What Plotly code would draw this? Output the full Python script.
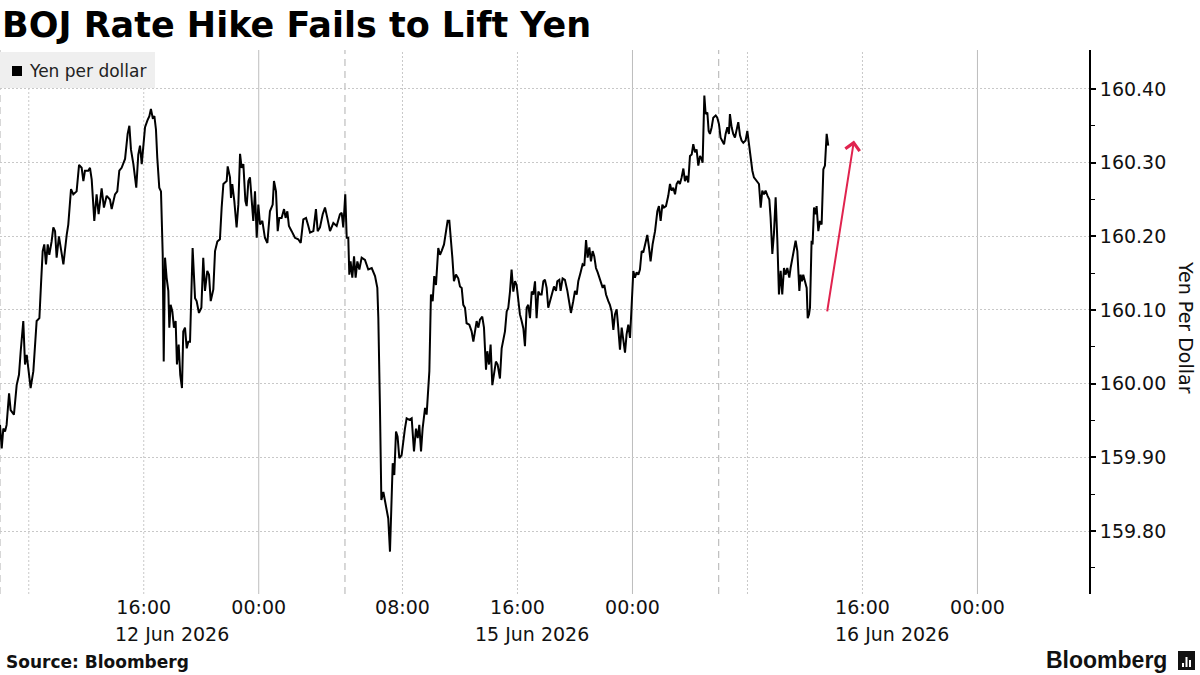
import plotly.graph_objects as go

# ---------------- data ----------------
TITLE = "BOJ Rate Hike Fails to Lift Yen"
SERIES_NAME = "Yen per dollar"
Y_TITLE = "Yen Per Dollar"
SOURCE = "Source: Bloomberg"

# session hours from 06:00 12 Jun 2026 (weekend gap collapsed)
X_HOURS = [
    0.00, 0.12, 0.23, 0.35, 0.46, 0.63, 0.74, 0.97, 1.16, 1.32, 1.44, 1.62, 1.74, 1.86, 2.13, 2.32,
    2.55, 2.74, 2.85, 2.97, 3.08, 3.20, 3.32, 3.43, 3.59, 3.71, 3.83, 3.94, 4.10, 4.24, 4.41, 4.64,
    4.75, 4.94, 5.10, 5.33, 5.50, 5.68, 5.80, 5.91, 6.14, 6.26, 6.38, 6.56, 6.72, 6.86, 7.07, 7.23,
    7.42, 7.65, 7.77, 8.00, 8.16, 8.30, 8.46, 8.70, 8.88, 9.00, 9.11, 9.28, 9.48, 9.62, 9.74, 9.86,
    9.97, 10.09, 10.25, 10.39, 10.50, 10.62, 10.74, 10.85, 10.94, 11.08, 11.20, 11.32, 11.39, 11.48,
    11.59, 11.71, 11.78, 11.87, 11.99, 12.10, 12.22, 12.31, 12.43, 12.54, 12.66, 12.75, 12.87, 12.99,
    13.10, 13.22, 13.40, 13.57, 13.68, 13.84, 14.01, 14.14, 14.26, 14.42, 14.54, 14.66, 14.84, 14.96,
    15.12, 15.30, 15.42, 15.54, 15.77, 15.84, 16.00, 16.07, 16.16, 16.30, 16.46, 16.58, 16.70, 16.81,
    16.93, 17.07, 17.16, 17.28, 17.39, 17.51, 17.62, 17.74, 17.86, 17.97, 18.09, 18.25, 18.43, 18.60,
    18.78, 18.97, 19.06, 19.20, 19.32, 19.43, 19.59, 19.76, 19.87, 19.99, 20.10, 20.29, 20.52, 20.75,
    20.92, 21.10, 21.29, 21.45, 21.57, 21.80, 21.98, 22.10, 22.26, 22.45, 22.61, 22.77, 22.96, 23.19,
    23.42, 23.65, 23.77, 23.88, 24.02, 24.12, 24.23, 24.30, 24.39, 24.51, 24.63, 24.74, 24.86, 25.00,
    25.16, 25.39, 25.62, 25.86, 26.09, 26.25, 26.32, 26.43, 26.53, 26.67, 26.85, 27.01, 27.13, 27.20,
    27.32, 27.43, 27.55, 27.66, 27.78, 27.94, 28.06, 28.17, 28.29, 28.48, 28.64, 28.80, 28.94, 29.06,
    29.17, 29.29, 29.40, 29.57, 29.68, 29.87, 29.98, 30.10, 30.21, 30.33, 30.49, 30.61, 30.72, 30.89,
    31.03, 31.14, 31.26, 31.37, 31.47, 31.58, 31.72, 31.88, 32.00, 32.12, 32.23, 32.35, 32.46, 32.65,
    32.81, 32.93, 33.04, 33.16, 33.28, 33.39, 33.55, 33.67, 33.81, 33.90, 34.02, 34.13, 34.25, 34.37,
    34.50, 34.62, 34.78, 34.90, 35.01, 35.13, 35.25, 35.36, 35.48, 35.59, 35.71, 35.83, 35.94, 36.06,
    36.17, 36.29, 36.41, 36.52, 36.64, 36.75, 36.87, 36.99, 37.10, 37.22, 37.33, 37.45, 37.57, 37.68,
    37.80, 37.91, 38.03, 38.14, 38.26, 38.38, 38.54, 38.68, 38.77, 38.91, 39.00, 39.14, 39.30, 39.47,
    39.61, 39.72, 39.88, 40.00, 40.12, 40.23, 40.39, 40.53, 40.65, 40.77, 40.88, 41.00, 41.11, 41.23,
    41.34, 41.46, 41.58, 41.69, 41.81, 41.93, 42.04, 42.16, 42.32, 42.43, 42.55, 42.67, 42.78, 42.90,
    43.01, 43.13, 43.25, 43.32, 43.41, 43.48, 43.59, 43.71, 43.83, 43.94, 44.06, 44.17, 44.29, 44.41,
    44.52, 44.64, 44.75, 44.94, 45.03, 45.15, 45.26, 45.40, 45.57, 45.73, 45.84, 45.96, 46.08, 46.19,
    46.33, 46.49, 46.61, 46.72, 46.84, 46.96, 47.07, 47.19, 47.30, 47.42, 47.54, 47.65, 47.77, 47.88,
    48.00, 48.12, 48.23, 48.35, 48.46, 48.58, 48.70, 48.81, 48.88, 49.00, 49.09, 49.21, 49.30, 49.39,
    49.51, 49.62, 49.79, 49.90, 50.02, 50.13, 50.25, 50.37, 50.48, 50.60, 50.71, 50.78, 50.90, 51.01,
    51.13, 51.25, 51.36, 51.48, 51.59, 51.71, 51.87, 51.99, 52.10, 52.22, 52.34, 52.45, 52.64, 52.80,
    52.92, 53.03, 53.15, 53.26, 53.40, 53.52, 53.61, 53.73, 53.84, 53.96, 54.08, 54.19, 54.31, 54.42,
    54.54, 54.66, 54.77, 54.91, 55.00, 55.12, 55.23, 55.35, 55.47, 55.54, 55.61, 55.70, 55.79, 55.88,
    56.00, 56.12, 56.19, 56.28, 56.35, 56.46, 56.53, 56.63, 56.74, 56.81, 56.93, 57.04, 57.16, 57.28,
    57.39, 57.51, 57.62,
]
YEN = [
    159.944, 159.912, 159.939, 159.935, 159.944, 159.987, 159.964, 159.958, 159.998, 160.012, 160.044, 160.085, 160.026, 160.039, 159.994, 160.017,
    160.085, 160.089, 160.134, 160.180, 160.189, 160.162, 160.189, 160.175, 160.193, 160.212, 160.207, 160.171, 160.200, 160.184, 160.162, 160.202,
    160.216, 160.264, 160.257, 160.261, 160.297, 160.293, 160.275, 160.289, 160.289, 160.293, 160.277, 160.221, 160.257, 160.230, 160.265, 160.239,
    160.255, 160.250, 160.237, 160.257, 160.261, 160.289, 160.293, 160.305, 160.339, 160.350, 160.318, 160.298, 160.266, 160.311, 160.323, 160.298,
    160.325, 160.348, 160.357, 160.363, 160.373, 160.361, 160.363, 160.345, 160.307, 160.266, 160.261, 160.175, 160.030, 160.171,
    160.144, 160.126, 160.076, 160.107, 160.098, 160.076, 160.085, 160.026, 160.053, 160.012, 159.994, 160.071, 160.076, 160.048,
    160.057, 160.057, 160.184, 160.116, 160.112, 160.096, 160.103, 160.171, 160.126, 160.153, 160.148, 160.112, 160.128, 160.180,
    160.193, 160.196, 160.239, 160.271, 160.275, 160.295, 160.280, 160.252, 160.271, 160.248, 160.212, 160.243, 160.312, 160.293,
    160.298, 160.248, 160.241, 160.275, 160.280, 160.248, 160.221, 160.261, 160.198, 160.243, 160.216, 160.221, 160.198, 160.191,
    160.234, 160.243, 160.275, 160.261, 160.207, 160.225, 160.225, 160.237, 160.225, 160.234, 160.214, 160.207, 160.198, 160.196,
    160.191, 160.223, 160.225, 160.214, 160.205, 160.207, 160.237, 160.207, 160.212, 160.230, 160.239, 160.225, 160.207, 160.218,
    160.214, 160.230, 160.232, 160.212, 160.257, 160.198, 160.198, 160.148, 160.166, 160.144, 160.173, 160.144, 160.166, 160.155,
    160.171, 160.168, 160.155, 160.157, 160.146, 160.130, 160.089, 159.971, 159.842, 159.853, 159.835, 159.817, 159.772, 159.817,
    159.892, 159.876, 159.935, 159.928, 159.899, 159.903, 159.926, 159.939, 159.953, 159.951, 159.953, 159.908, 159.939, 159.926,
    159.944, 159.908, 159.939, 159.967, 159.958, 160.017, 160.121, 160.112, 160.146, 160.134, 160.184, 160.175, 160.180, 160.189,
    160.207, 160.221, 160.221, 160.200, 160.171, 160.139, 160.148, 160.143, 160.132, 160.130, 160.107, 160.103, 160.082, 160.080,
    160.071, 160.057, 160.071, 160.085, 160.076, 160.087, 160.091, 160.076, 160.019, 160.044, 160.026, 160.053, 159.998, 160.017,
    160.030, 160.026, 160.007, 160.048, 160.062, 160.071, 160.098, 160.103, 160.125, 160.155, 160.125, 160.139, 160.134, 160.116,
    160.094, 160.085, 160.075, 160.051, 160.103, 160.107, 160.089, 160.125, 160.121, 160.139, 160.089, 160.125, 160.121, 160.121,
    160.139, 160.141, 160.130, 160.103, 160.112, 160.121, 160.132, 160.126, 160.139, 160.141, 160.126, 160.143, 160.141, 160.126,
    160.107, 160.096, 160.112, 160.126, 160.121, 160.139, 160.151, 160.162, 160.160, 160.195, 160.171, 160.185, 160.166, 160.180,
    160.173, 160.157, 160.151, 160.144, 160.139, 160.130, 160.134, 160.121, 160.112, 160.107, 160.098, 160.073, 160.094, 160.101,
    160.076, 160.046, 160.076, 160.067, 160.049, 160.042, 160.067, 160.080, 160.062, 160.098, 160.153, 160.144, 160.151, 160.148,
    160.155, 160.180, 160.178, 160.194, 160.202, 160.185, 160.166, 160.189, 160.207, 160.234, 160.241, 160.221, 160.243, 160.239,
    160.241, 160.255, 160.271, 160.262, 160.266, 160.257, 160.271, 160.275, 160.271, 160.280, 160.292, 160.275, 160.282, 160.273,
    160.309, 160.311, 160.325, 160.314, 160.318, 160.296, 160.309, 160.305, 160.300, 160.391, 160.366, 160.368, 160.343, 160.339,
    160.348, 160.361, 160.364, 160.361, 160.352, 160.334, 160.330, 160.325, 160.339, 160.348, 160.339, 160.366, 160.348, 160.339,
    160.334, 160.343, 160.355, 160.337, 160.330, 160.327, 160.330, 160.343, 160.325, 160.307, 160.289, 160.280, 160.275, 160.271,
    160.239, 160.262, 160.257, 160.262, 160.255, 160.250, 160.225, 160.176, 160.203, 160.253, 160.194, 160.121, 160.153, 160.121,
    160.157, 160.148, 160.157, 160.144, 160.157, 160.171, 160.185, 160.194, 160.180, 160.153, 160.126, 160.148, 160.139, 160.148,
    160.137, 160.130, 160.089, 160.094, 160.103, 160.194, 160.189, 160.239, 160.230, 160.241, 160.207, 160.221, 160.216, 160.291,
    160.296, 160.339, 160.323,
]

Y_TICKS = [159.80, 159.90, 160.00, 160.10, 160.20, 160.30, 160.40]
Y_MINOR = [159.75, 159.85, 159.95, 160.05, 160.15, 160.25, 160.35]
Y_RANGE = [159.7145, 160.4529]
X_RANGE = [0, 75.76]

TICK_HOURS = [10, 18, 28, 36, 44, 60, 68]
TICK_TEXT = ["16:00", "00:00", "08:00", "16:00", "00:00", "16:00", "00:00"]
DATE_TEXT = ["12 Jun 2026", "15 Jun 2026", "16 Jun 2026"]
DATE_HOURS = [12.0, 37.0, 62.05]

GRID_DOTTED = [2, 10, 28, 36, 52, 60]
GRID_SOLID = [18, 44, 68]
GRID_DASHED = [0, 24, 50]

# annotation arrow (start -> end) in data units
ARROW_FROM = (57.53, 160.096)
ARROW_TO = (59.41, 160.330)

# ---------------- layout geometry ----------------
W, H = 1200, 675
PL, PR, PT, PB = 0, 1089, 50, 594


def px_x(x):
    return (x - PL) / (PR - PL)


def px_y(y):
    return (PB - y) / (PB - PT)


FONT = "DejaVu Sans"

fig = go.Figure()

fig.add_trace(go.Scatter(
    x=X_HOURS, y=YEN, mode="lines", name=SERIES_NAME,
    line=dict(color="#000000", width=2), showlegend=False, hoverinfo="skip",
))

shapes = []
for h in GRID_DOTTED:
    shapes.append(dict(type="line", xref="x", yref="paper", x0=h, x1=h, y0=0, y1=1,
                       line=dict(color="#c8c8c8", width=1, dash="2px,2px"), layer="below"))
for h in GRID_SOLID:
    shapes.append(dict(type="line", xref="x", yref="paper", x0=h, x1=h, y0=0, y1=1,
                       line=dict(color="#bdbdbd", width=1), layer="below"))
for h in GRID_DASHED:
    shapes.append(dict(type="line", xref="x", yref="paper", x0=h, x1=h, y0=0, y1=1,
                       line=dict(color="#b0b0b0", width=1, dash="7px,5px"), layer="below"))

# legend box
shapes.append(dict(type="rect", xref="paper", yref="paper",
                   x0=px_x(0), x1=px_x(155), y0=px_y(88), y1=px_y(52),
                   fillcolor="#efefef", line=dict(width=0), layer="above"))
shapes.append(dict(type="rect", xref="paper", yref="paper",
                   x0=px_x(12), x1=px_x(22), y0=px_y(76), y1=px_y(66),
                   fillcolor="#000000", line=dict(width=0), layer="above"))

# Bloomberg icon
shapes.append(dict(type="rect", xref="paper", yref="paper",
                   x0=px_x(1178), x1=px_x(1195), y0=px_y(670), y1=px_y(651),
                   fillcolor="#111111", line=dict(width=0)))
for bx0, bx1, by0 in [(1182, 1184, 663), (1185.5, 1187.5, 657), (1189, 1191, 660)]:
    shapes.append(dict(type="rect", xref="paper", yref="paper",
                       x0=px_x(bx0), x1=px_x(bx1), y0=px_y(667), y1=px_y(by0),
                       fillcolor="#ffffff", line=dict(width=0)))

annotations = []
annotations.append(dict(text=SERIES_NAME, xref="paper", yref="paper", x=px_x(27), y=px_y(71),
                        xanchor="left", yanchor="middle", showarrow=False,
                        font=dict(family=FONT, size=17, color="#222222")))
for t, h in zip(DATE_TEXT, DATE_HOURS):
    annotations.append(dict(text=t, xref="x", yref="paper", x=h, y=px_y(634),
                            xanchor="center", yanchor="middle", showarrow=False,
                            font=dict(family=FONT, size=19, color="#111111")))
annotations.append(dict(text=Y_TITLE, xref="paper", yref="paper", x=px_x(1186), y=px_y(327),
                        xanchor="center", yanchor="middle", textangle=90, showarrow=False,
                        font=dict(family=FONT, size=19, color="#111111")))
annotations.append(dict(text="<b>" + SOURCE + "</b>", xref="paper", yref="paper", x=px_x(4), y=px_y(662),
                        xanchor="left", yanchor="middle", showarrow=False,
                        font=dict(family=FONT, size=17, color="#111111")))
annotations.append(dict(text="Bloomberg", xref="paper", yref="paper", x=px_x(1169), y=px_y(660),
                        xanchor="right", yanchor="middle", showarrow=False,
                        font=dict(family="Liberation Sans", size=23, color="#111111", weight=600)))
annotations.append(dict(text="", x=ARROW_TO[0], y=ARROW_TO[1], ax=ARROW_FROM[0], ay=ARROW_FROM[1],
                        xref="x", yref="y", axref="x", ayref="y", showarrow=True,
                        arrowhead=4, arrowsize=1.4, arrowwidth=2, arrowcolor="#e0234e"))

fig.update_layout(
    width=W, height=H,
    margin=dict(l=PL, r=W - PR, t=PT, b=H - PB),
    paper_bgcolor="white", plot_bgcolor="white",
    title=dict(text="<b>" + TITLE + "</b>", x=2 / W, xanchor="left", xref="container",
               y=1 - 25 / H, yanchor="middle", yref="container",
               font=dict(family=FONT, size=35, color="#000000")),
    shapes=shapes, annotations=annotations,
    xaxis=dict(range=X_RANGE, tickmode="array", tickvals=TICK_HOURS, ticktext=TICK_TEXT,
               showgrid=False, zeroline=False, showline=False, ticks="",
               tickfont=dict(family=FONT, size=19, color="#111111")),
    yaxis=dict(range=Y_RANGE, side="right", tickmode="array", tickvals=Y_TICKS,
               ticktext=[f"{v:.2f}" for v in Y_TICKS],
               showgrid=True, gridcolor="#c8c8c8", griddash="2px,2px", gridwidth=1,
               zeroline=False, showline=True, linecolor="#000000", linewidth=2,
               ticks="outside", ticklen=5, tickcolor="#000000", tickwidth=2,
               minor=dict(tickmode="array", tickvals=Y_MINOR,
                          ticks="outside", ticklen=4, tickcolor="#000000", tickwidth=1, showgrid=False),
               tickfont=dict(family=FONT, size=19, color="#111111")),
)

fig.write_html("out.html", config={"displayModeBar": False, "staticPlot": True},
               post_script="document.body.style.margin='0';document.body.style.overflow='hidden';")
